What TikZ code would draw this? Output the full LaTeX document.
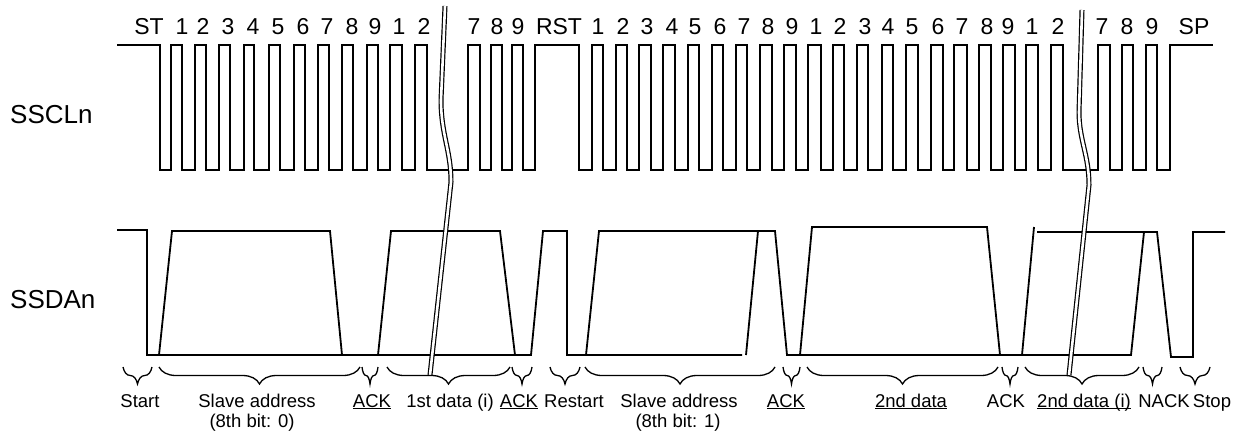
\documentclass[tikz,border=0pt]{standalone}
\usepackage{fontspec}
\setmainfont{Liberation Sans}
\usetikzlibrary{decorations.pathreplacing}
\newcommand\myul[1]{\setbox0\hbox{#1}\rlap{\rule[-2.2pt]{\wd0}{1.2pt}}\box0}
\begin{document}
\begin{tikzpicture}[x=1pt,y=-1pt]
\tikzset{
  wave/.style={line width=1.8pt, line join=miter},
  brk/.style={draw=black, double=white, line width=1.2pt, double distance=2.6pt},
  brc/.style={decorate, decoration={brace, mirror, amplitude=17pt}, line width=1.3pt},
  toplab/.style={font=\fontsize{23}{27}\selectfont, inner sep=0pt, anchor=base},
  sig/.style={font=\fontsize{26}{31}\selectfont, inner sep=0pt, anchor=base west},
  lab/.style={font=\fontsize{18.5}{22}\selectfont, inner sep=0pt, anchor=base},
}
\useasboundingbox (0,0) rectangle (1241,441);
% signal names
\node[sig] (scl) at (10,124) {SSCLn};
\node[sig] (sda) at (10,308) {SSDAn};
% SCL
\draw[wave] (117,45) -- (160,45) -- (160,170)
  \foreach \r/\f in {171/182,195/206,219/230,244/254,269/280,294/305,318/329,342/353,367/378,390/402,415/427}
    { -- (\r,170) -- (\r,45) -- (\f,45) -- (\f,170) }
  \foreach \r/\f in {468/480,491/502,512/523}
    { -- (\r,170) -- (\r,45) -- (\f,45) -- (\f,170) }
  -- (535,170) -- (535,45) -- (579,45) -- (579,170)
  \foreach \r/\f in {592/603,616/627,639/651,663/675,688/699,712/723,736/747,760/772,784/796,808/821,833/844,857/868,882/893,906/918,931/943,954/967,979/991,1003/1015,1026/1038,1051/1063,1098/1110,1122/1133,1146/1157}
    { -- (\r,170) -- (\r,45) -- (\f,45) -- (\f,170) }
  -- (1170,170) -- (1170,45) -- (1213,45);
% top labels
\foreach \t/\x [count=\i] in {ST/149,1/182,2/203,3/228,4/253,5/278,6/303,7/327,8/352,9/375,1/399,2/424,7/474,8/497,9/518,
  RST/559,1/598,2/623,3/647,4/672,5/695,6/720,7/744,8/768,9/792,1/816,2/840,3/865,4/888,5/912,6/938,7/962,8/987,9/1008,1/1032,2/1058,7/1102,8/1127,9/1152,SP/1194}
  \node[toplab] (t\i) at (\x,35) {\t};
% SDA
\draw[wave] (117,230) -- (147,230) -- (147,355) -- (531,355) -- (543,231) -- (567,231) -- (567,355) -- (742,355);
\draw[wave] (159,355) -- (172,231) -- (330,231) -- (342,355);
\draw[wave] (378,355) -- (391,231) -- (500,231) -- (515,355);
\draw[wave] (586,355) -- (599,231) -- (775,231) -- (787,355) -- (1131,355) -- (1144,232);
\draw[wave] (746,355) -- (758,231);
\draw[wave] (800,355) -- (812,227) -- (987,227) -- (1000,355);
\draw[wave] (1022,355) -- (1034,227);
\draw[wave] (1037,232) -- (1157,232) -- (1171,357) -- (1193,357) -- (1193,232) -- (1225,232);
% breaks
\draw[brk] (445,6) -- (441,100) .. controls (441,135) and (451,150) .. (451,182) -- (430,375);
\draw[brk] (1082,10) -- (1079,112) .. controls (1079,140) and (1089,155) .. (1089,185) -- (1069,375);
% braces
\foreach \a/\b in {123/152,159/360,362/378,387/510,512/532,550/580,585/775,783/800,807/998,1002/1018,1025/1139,1143/1162,1180/1210}
  \draw[brc] (\a,367) -- (\b,367);
% bottom labels
\node[lab] (lstart) at (140,407) {Start};
\node[lab] (lsa1) at (257,407) {Slave address};
\node[lab] (lsa1b) at (252,427) {(8th bit: 0)};
\node[lab] (lack1) at (372,407) {\myul{ACK}};
\node[lab] (ld1) at (450,407) {1st data (i)};
\node[lab] (lack2) at (519,407) {\myul{ACK}};
\node[lab] (lrst) at (574,407) {Restart};
\node[lab] (lsa2) at (679,407) {Slave address};
\node[lab] (lsa2b) at (678,427) {(8th bit: 1)};
\node[lab] (lack3) at (786,407) {\myul{ACK}};
\node[lab] (ld2) at (911,407) {\myul{2nd data}};
\node[lab] (lack4) at (1006,407) {ACK};
\node[lab] (ld2i) at (1084,407) {\myul{2nd data (i)}};
\node[lab] (lnack) at (1164,407) {NACK};
\node[lab] (lstop) at (1212,407) {Stop};
\end{tikzpicture}
\end{document}
